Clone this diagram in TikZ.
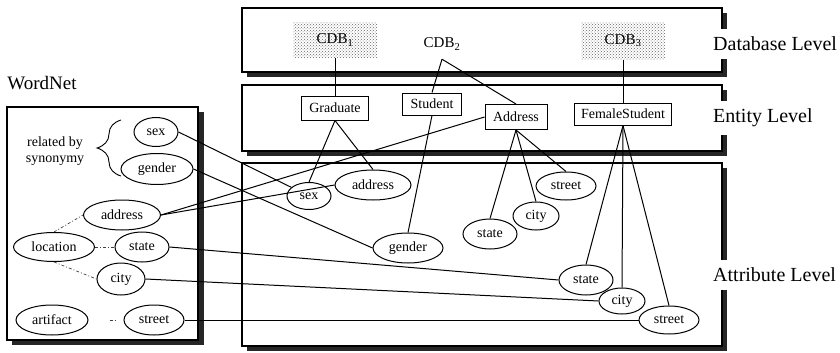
\documentclass[tikz,border=0pt]{standalone}
\usepackage{fontspec}
\setmainfont{Liberation Serif}
\usetikzlibrary{shapes.geometric,decorations.pathreplacing,patterns}

\begin{document}
\begin{tikzpicture}[x=1pt,y=-1pt,
  every node/.style={font=\fontsize{14}{15.5}\selectfont},
  attr/.style 2 args={ellipse,draw,line width=1pt,inner sep=0pt,
    minimum width=#1,minimum height=#2},
  ent/.style 2 args={rectangle,draw,line width=1pt,inner sep=0pt,
    minimum width=#1,minimum height=#2},
  dbpatch/.style 2 args={rectangle,inner sep=0pt,pattern=crosshatch dots,
    pattern color=black!60,minimum width=#1,minimum height=#2,
    font=\fontsize{15}{16}\selectfont},
  dbname/.style={inner sep=0pt,minimum height=30pt,
    font=\fontsize{15}{16}\selectfont},
  link/.style={line width=1pt},
  synlink/.style={line width=0.7pt,black!75,
    dash pattern=on 3pt off 2pt on 1pt off 2pt},
  panel/.style={draw,line width=1.1pt,fill=white},
  shade/.style={fill=black!85},
  levellabel/.style={anchor=west,fill=white,inner xsep=2pt,inner ysep=7.5pt,
    font=\fontsize{20}{22}\selectfont},
]
\useasboundingbox (0,0) rectangle (840,353);

% level panels with their shadows
\fill[shade] (247,13) rectangle (727,77);
\draw[panel] (242,8) rectangle (722,72);
\fill[shade] (247,90) rectangle (727,156);
\draw[panel] (242,85) rectangle (722,151);
\fill[shade] (247,168) rectangle (727,351);
\draw[panel] (242,163) rectangle (722,346);
% WordNet panel
\fill[shade] (12,112) rectangle (204,345);
\draw[panel] (7,107) rectangle (198,340);

% level names
\node[levellabel] (lvdb)  at (711,44)  {Database Level};
\node[levellabel] (lvent) at (711,118) {Entity Level};
\node[levellabel] (lvatt) at (711,275) {Attribute Level};
\node[font=\fontsize{19}{21}\selectfont] (wntitle) at (42,83) {WordNet};

% database level
\node[dbpatch={84pt}{35pt}] (cdb1) at (335,40) {CDB\textsubscript{1}};
\node[dbname] (cdb2) at (442,44) {CDB\textsubscript{2}};
\node[dbpatch={84pt}{37pt}] (cdb3) at (623,41) {CDB\textsubscript{3}};

% entity level
\node[ent={67pt}{24pt}] (graduate) at (335,108) {Graduate};
\node[ent={59pt}{22pt}] (student)  at (432,104) {Student};
\node[ent={62pt}{25pt}] (eaddress) at (516,117) {Address};
\node[ent={97pt}{22pt}] (female)   at (623,114) {FemaleStudent};

% attribute level
\node[attr={44pt}{27pt}] (asex)     at (309,196) {sex};
\node[attr={76pt}{30pt}] (aaddress) at (373,185) {address};
\node[attr={70pt}{30pt}] (agender)  at (408,248) {gender};
\node[attr={54pt}{30pt}] (astate1)  at (490,234) {state};
\node[attr={46pt}{28pt}] (acity1)   at (536,216) {city};
\node[attr={60pt}{28pt}] (astreet1) at (566,186) {street};
\node[attr={54pt}{30pt}] (astate2)  at (586,280) {state};
\node[attr={46pt}{26pt}] (acity2)   at (622,301) {city};
\node[attr={60pt}{28pt}] (astreet2) at (669,320) {street};

% WordNet
\node[attr={44pt}{29pt}] (wsex)      at (156,132) {sex};
\node[attr={72pt}{31pt}] (wgender)   at (157,169) {gender};
\node[attr={77pt}{30pt}] (waddress)  at (122,215) {address};
\node[attr={81pt}{29pt}] (wlocation) at (54,247)  {location};
\node[attr={54pt}{30pt}] (wstate)    at (142,247) {state};
\node[attr={48pt}{32pt}] (wcity)     at (121,279) {city};
\node[attr={72pt}{30pt}] (wartifact) at (52,320)  {artifact};
\node[attr={60pt}{30pt}] (wstreet)   at (154,320) {street};
\node[align=center,inner sep=0pt] (synnote) at (55,151) {related by\\synonymy};
\draw[line width=0.9pt,decorate,decoration={brace,amplitude=24pt}]
  (121,176) -- (121,120);

% database to entity
\draw[link] (cdb1.south) -- (graduate.north);
\draw[link] (cdb2.south) -- (student.north);
\draw[link] (cdb2.south) -- (eaddress.north);
\draw[link] (cdb3.south) -- (female.north);

% entity to attribute
\draw[link] (graduate.south) -- (asex.north);
\draw[link] (graduate.south) -- (aaddress.north);
\draw[link] (student.south) -- (agender.north);
\draw[link] (eaddress.south) -- (astate1.north);
\draw[link] (eaddress.south) -- (acity1.north);
\draw[link] (eaddress.south) -- (astreet1.north);
\draw[link] (female.south) -- (astate2.north);
\draw[link] (female.south) -- (acity2.north);
\draw[link] (female.south) -- (astreet2.north);

% WordNet relations
\draw[synlink] (wlocation.north) -- (waddress.west);
\draw[synlink] (wlocation.east) -- (wstate.west);
\draw[synlink] (wlocation.south) -- (wcity.west);
\draw[synlink,shorten <=21pt,shorten >=7pt] (wartifact.east) -- (wstreet.west);

% WordNet to attributes and entities
\draw[link] (wsex.east) -- (asex);
\draw[link] (wgender.east) -- (agender.west);
\draw[link] (waddress.east) -- (aaddress.west);
\draw[link] (waddress.east) -- (eaddress.west);
\draw[link] (wstate.east) -- (astate2.west);
\draw[link] (wcity.east) -- (acity2.west);
\draw[link] (wstreet.east) -- (astreet2.west);
\end{tikzpicture}
\end{document}
